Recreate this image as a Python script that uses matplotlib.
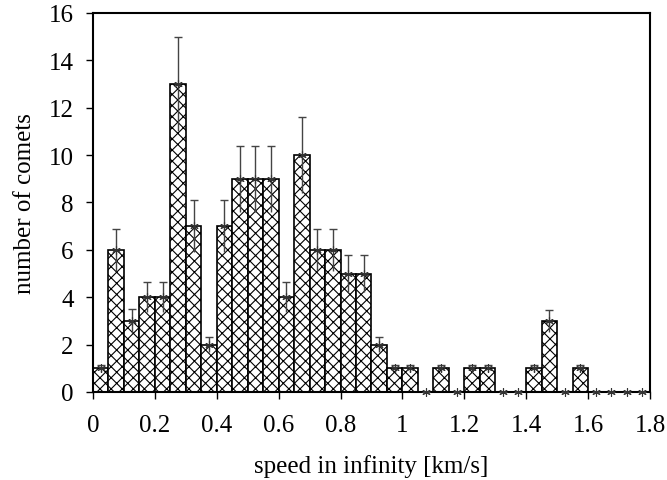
import matplotlib
matplotlib.use("Agg")
import matplotlib.pyplot as plt
import numpy as np

plt.rcParams['font.family'] = ['Liberation Serif', 'DejaVu Serif']
plt.rcParams['hatch.linewidth'] = 0.8

# bin left edges, width 0.05 km/s
bin_width = 0.05
bin_left = [0.00, 0.05, 0.10, 0.15, 0.20, 0.25, 0.30, 0.35, 0.40, 0.45,
            0.50, 0.55, 0.60, 0.65, 0.70, 0.75, 0.80, 0.85, 0.90, 0.95,
            1.00, 1.05, 1.10, 1.15, 1.20, 1.25, 1.30, 1.35, 1.40, 1.45,
            1.50, 1.55, 1.60, 1.65, 1.70, 1.75]
counts = [1, 6, 3, 4, 4, 13, 7, 2, 7, 9,
          9, 9, 4, 10, 6, 6, 5, 5, 2, 1,
          1, 0, 1, 0, 1, 1, 0, 0, 1, 3,
          0, 1, 0, 0, 0, 0]
errors = [0.15, 0.9, 0.5, 0.64, 0.64, 2.0, 1.1, 0.3, 1.1, 1.4,
          1.4, 1.4, 0.64, 1.6, 0.9, 0.9, 0.78, 0.78, 0.3, 0.15,
          0.15, 0, 0.15, 0, 0.15, 0.15, 0, 0, 0.15, 0.45,
          0, 0.15, 0, 0, 0, 0]

centers = np.array(bin_left) + bin_width / 2

fig = plt.figure(figsize=(6.67, 4.81), dpi=100)
ax = fig.add_axes([0.1394, 0.183, 0.8351, 0.788])

ax.bar(bin_left, counts, width=bin_width, align='edge', color='white',
       edgecolor='black', linewidth=1.2, hatch='xxx', zorder=2)

eb = ax.errorbar(centers, counts, yerr=errors, fmt='none', ecolor='#444444',
                 elinewidth=1.0, capsize=3, capthick=1.0, zorder=3)
eb[1][0].set_visible(False)  # no lower caps
ax.plot(centers, counts, linestyle='none', marker=(6, 2, 0), markersize=6,
        markeredgecolor='#333333', markeredgewidth=0.8, zorder=4, clip_on=False)

ax.set_xlim(0, 1.8)
ax.set_ylim(0, 16)
ax.set_xticks(np.arange(0, 1.81, 0.2))
ax.set_xticklabels(['0', '0.2', '0.4', '0.6', '0.8', '1', '1.2', '1.4', '1.6', '1.8'])
ax.set_yticks(range(0, 17, 2))
ax.tick_params(direction='out', length=5, width=1, labelsize=18)
ax.tick_params(axis='x', pad=11)
ax.tick_params(axis='y', pad=9)
for s in ax.spines.values():
    s.set_linewidth(1.5)

ax.set_xlabel('speed in infinity [km/s]', fontsize=18, labelpad=13)
ax.set_ylabel('number of comets', fontsize=18, labelpad=9)

fig.savefig('out.png', dpi=100)
